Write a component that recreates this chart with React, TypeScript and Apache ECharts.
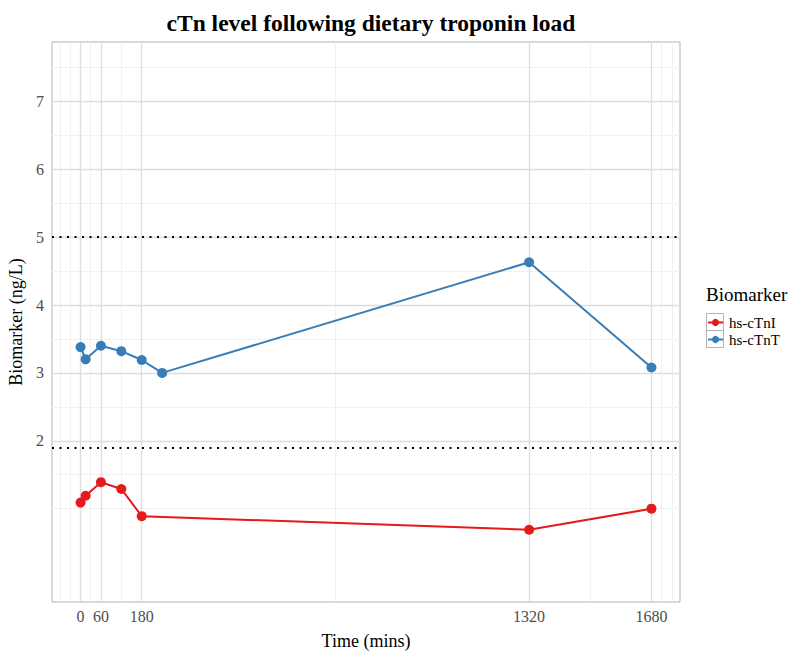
import React, { useEffect, useRef } from "react";
import * as echarts from "echarts";

const timeTicks = [0, 60, 180, 1320, 1680];
const yTicks = [2, 3, 4, 5, 6, 7];
const xMinor = [-60, -30, 30, 120, 750, 1500, 1710, 1740];
const yMinor = [1, 1.5, 2.5, 3.5, 4.5, 5.5, 6.5, 7.5];
const refLines = [5, 1.9];

const cTnI: [number, number][] = [
  [0, 1.09],
  [15, 1.19],
  [60, 1.39],
  [120, 1.29],
  [180, 0.89],
  [1320, 0.69],
  [1680, 1.0],
];
const cTnT: [number, number][] = [
  [0, 3.38],
  [15, 3.2],
  [60, 3.4],
  [120, 3.32],
  [180, 3.19],
  [240, 3.0],
  [1320, 4.63],
  [1680, 3.08],
];

const FONT = "'Liberation Serif', 'DejaVu Serif', serif";

export default function App() {
  const ref = useRef<HTMLDivElement>(null);
  useEffect(() => {
    if (!ref.current) return;
    const chart = echarts.init(ref.current, null, { renderer: "svg" });
    const gridLine = (color: string, width: number) => ({
      color,
      width,
      type: "solid" as const,
    });
    const markData: any[] = [];
    xMinor.forEach((v) =>
      markData.push({ xAxis: v, lineStyle: gridLine("#f1f1f1", 1) })
    );
    yMinor.forEach((v) =>
      markData.push({ yAxis: v, lineStyle: gridLine("#f1f1f1", 1) })
    );
    timeTicks.forEach((v) =>
      markData.push({ xAxis: v, lineStyle: gridLine("#dedede", 1.3) })
    );
    yTicks.forEach((v) =>
      markData.push({ yAxis: v, lineStyle: gridLine("#dedede", 1.3) })
    );
    const refData = refLines.map((v) => ({
      yAxis: v,
      lineStyle: { color: "#000", width: 2, type: [2, 5.5] },
    }));

    chart.setOption({
      animation: false,
      backgroundColor: "#fff",
      title: {
        text: "cTn level following dietary troponin load",
        left: 366,
        top: 6,
        textAlign: "center",
        textStyle: {
          fontFamily: FONT,
          fontWeight: "bold",
          fontSize: 23.5,
          color: "#000",
        },
      },
      grid: {
        left: 52,
        right: 120,
        top: 42,
        bottom: 60,
        show: true,
        borderColor: "#b3b3b3",
        borderWidth: 1,
        backgroundColor: "#fff",
        containLabel: false,
        outerBoundsMode: "none",
      },
      xAxis: {
        type: "value",
        min: -84,
        max: 1764,
        name: "Time (mins)",
        nameLocation: "middle",
        nameGap: 30,
        nameTextStyle: { fontFamily: FONT, fontSize: 18, color: "#000" },
        axisLine: { show: false },
        splitLine: { show: false },
        axisTick: {
          show: true,
          customValues: timeTicks,
          length: 4,
          lineStyle: { color: "#b3b3b3" },
        },
        axisLabel: {
          customValues: timeTicks,
          formatter: (v: number) => String(v),
          fontFamily: FONT,
          fontSize: 16,
          color: "#4d4d4d",
          margin: 6,
        },
      },
      yAxis: {
        type: "value",
        min: -0.375,
        max: 7.875,
        name: "Biomarker (ng/L)",
        nameLocation: "middle",
        nameGap: 26,
        nameTextStyle: { fontFamily: FONT, fontSize: 18, color: "#000" },
        axisLine: { show: false },
        splitLine: { show: false },
        axisTick: {
          show: true,
          customValues: yTicks,
          length: 4,
          lineStyle: { color: "#b3b3b3" },
        },
        axisLabel: {
          customValues: yTicks,
          formatter: (v: number) => String(v),
          fontFamily: FONT,
          fontSize: 16,
          color: "#4d4d4d",
          margin: 8,
        },
      },
      legend: {
        orient: "vertical",
        left: 707,
        top: 314,
        itemWidth: 15,
        itemHeight: 9,
        itemGap: 0,
        data: ["hs-cTnI", "hs-cTnT"],
        textStyle: {
          fontFamily: FONT,
          fontSize: 15,
          lineHeight: 17,
          color: "#000",
          padding: [0, 0, 0, 1],
        },
        padding: 0,
      },
      graphic: [
        {
          type: "text",
          left: 706,
          top: 285,
          style: { text: "Biomarker", font: `19px ${FONT}`, fill: "#000" },
        },
        {
          type: "rect",
          shape: { x: 706.5, y: 313.5, width: 17, height: 17 },
          style: { fill: "none", stroke: "#b3b3b3", lineWidth: 1 },
          z: 10,
        },
        {
          type: "rect",
          shape: { x: 706.5, y: 330.5, width: 17, height: 17 },
          style: { fill: "none", stroke: "#b3b3b3", lineWidth: 1 },
          z: 10,
        },
      ],
      series: [
        {
          type: "line",
          name: "grid",
          data: [],
          silent: true,
          z: 1,
          markLine: {
            silent: true,
            symbol: ["none", "none"],
            label: { show: false },
            animation: false,
            data: markData,
          },
        },
        {
          type: "line",
          name: "ref",
          data: [],
          silent: true,
          z: 3,
          markLine: {
            silent: true,
            symbol: ["none", "none"],
            label: { show: false },
            animation: false,
            data: refData,
          },
        },
        {
          type: "line",
          name: "hs-cTnI",
          data: cTnI,
          color: "#e41a1c",
          symbol: "circle",
          symbolSize: 10,
          lineStyle: { width: 2, color: "#e41a1c" },
          itemStyle: { color: "#e41a1c" },
          z: 5,
        },
        {
          type: "line",
          name: "hs-cTnT",
          data: cTnT,
          color: "#377eb8",
          symbol: "circle",
          symbolSize: 10,
          lineStyle: { width: 2, color: "#377eb8" },
          itemStyle: { color: "#377eb8" },
          z: 5,
        },
      ],
    });
    return () => chart.dispose();
  }, []);
  return (
    <div
      ref={ref}
      style={{ position: "fixed", left: 0, top: 0, width: 800, height: 662 }}
    />
  );
}
